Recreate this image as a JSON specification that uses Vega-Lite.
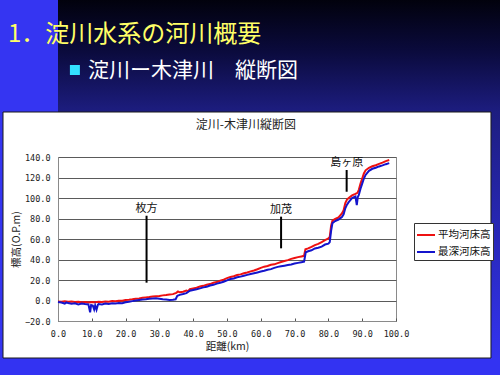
{
  "$schema": "https://vega.github.io/schema/vega-lite/v6.json",
  "width": 338,
  "height": 164,
  "autosize": {"type": "none"},
  "padding": {"left": 58, "top": 157, "right": 104, "bottom": 54},
  "background": "white",
  "config": {
    "font": "Noto Sans CJK JP",
    "view": {"stroke": "#8a8a8a", "strokeWidth": 1},
    "axis": {
      "domainColor": "#8a8a8a",
      "labelColor": "#222222",
      "titleColor": "#222222",
      "labelFont": "DejaVu Sans Mono",
      "labelFontSize": 8.5,
      "titleFont": "Noto Sans CJK JP",
      "titleFontSize": 10.5,
      "titleFontWeight": "normal",
      "gridColor": "#5a5a5a",
      "gridWidth": 1,
      "tickColor": "#555555"
    }
  },
  "datasets": {
    "profile": [
      {"series": "平均河床高", "km": 0, "elev": -1.0},
      {"series": "平均河床高", "km": 1, "elev": -1.2},
      {"series": "平均河床高", "km": 2, "elev": -0.8},
      {"series": "平均河床高", "km": 3, "elev": -1.3},
      {"series": "平均河床高", "km": 4, "elev": -1.0},
      {"series": "平均河床高", "km": 5, "elev": -1.5},
      {"series": "平均河床高", "km": 6, "elev": -1.2},
      {"series": "平均河床高", "km": 7, "elev": -1.8},
      {"series": "平均河床高", "km": 8, "elev": -1.4},
      {"series": "平均河床高", "km": 9, "elev": -2.0},
      {"series": "平均河床高", "km": 10, "elev": -1.5},
      {"series": "平均河床高", "km": 11, "elev": -1.8},
      {"series": "平均河床高", "km": 12, "elev": -1.3},
      {"series": "平均河床高", "km": 13, "elev": -1.5},
      {"series": "平均河床高", "km": 14, "elev": -1.0},
      {"series": "平均河床高", "km": 15, "elev": -1.2},
      {"series": "平均河床高", "km": 16, "elev": -0.6},
      {"series": "平均河床高", "km": 17, "elev": -0.8},
      {"series": "平均河床高", "km": 18, "elev": -0.3},
      {"series": "平均河床高", "km": 19, "elev": -0.2},
      {"series": "平均河床高", "km": 20, "elev": 0.5},
      {"series": "平均河床高", "km": 21, "elev": 0.8},
      {"series": "平均河床高", "km": 22, "elev": 1.2},
      {"series": "平均河床高", "km": 23, "elev": 1.8},
      {"series": "平均河床高", "km": 24, "elev": 2.0},
      {"series": "平均河床高", "km": 25, "elev": 2.6},
      {"series": "平均河床高", "km": 26, "elev": 3.0},
      {"series": "平均河床高", "km": 27, "elev": 3.4},
      {"series": "平均河床高", "km": 28, "elev": 3.9},
      {"series": "平均河床高", "km": 29, "elev": 4.2},
      {"series": "平均河床高", "km": 30, "elev": 4.5},
      {"series": "平均河床高", "km": 31, "elev": 5.0},
      {"series": "平均河床高", "km": 32, "elev": 5.3},
      {"series": "平均河床高", "km": 33, "elev": 5.8},
      {"series": "平均河床高", "km": 34, "elev": 6.2},
      {"series": "平均河床高", "km": 35, "elev": 7.5},
      {"series": "平均河床高", "km": 35.5, "elev": 8.8},
      {"series": "平均河床高", "km": 36, "elev": 8.0},
      {"series": "平均河床高", "km": 37, "elev": 8.6},
      {"series": "平均河床高", "km": 38, "elev": 9.8},
      {"series": "平均河床高", "km": 38.5, "elev": 9.2},
      {"series": "平均河床高", "km": 39, "elev": 11.0},
      {"series": "平均河床高", "km": 40, "elev": 11.8},
      {"series": "平均河床高", "km": 41, "elev": 12.5},
      {"series": "平均河床高", "km": 42, "elev": 13.6},
      {"series": "平均河床高", "km": 43, "elev": 14.3},
      {"series": "平均河床高", "km": 44, "elev": 15.4},
      {"series": "平均河床高", "km": 45, "elev": 16.0},
      {"series": "平均河床高", "km": 46, "elev": 17.3},
      {"series": "平均河床高", "km": 47, "elev": 18.0},
      {"series": "平均河床高", "km": 48, "elev": 19.4},
      {"series": "平均河床高", "km": 49, "elev": 20.4},
      {"series": "平均河床高", "km": 50, "elev": 21.8},
      {"series": "平均河床高", "km": 51, "elev": 23.0},
      {"series": "平均河床高", "km": 52, "elev": 23.6},
      {"series": "平均河床高", "km": 53, "elev": 24.8},
      {"series": "平均河床高", "km": 54, "elev": 25.5},
      {"series": "平均河床高", "km": 55, "elev": 26.6},
      {"series": "平均河床高", "km": 56, "elev": 27.3},
      {"series": "平均河床高", "km": 57, "elev": 28.4},
      {"series": "平均河床高", "km": 58, "elev": 29.3},
      {"series": "平均河床高", "km": 59, "elev": 30.5},
      {"series": "平均河床高", "km": 60, "elev": 31.8},
      {"series": "平均河床高", "km": 61, "elev": 33.0},
      {"series": "平均河床高", "km": 62, "elev": 33.6},
      {"series": "平均河床高", "km": 63, "elev": 34.8},
      {"series": "平均河床高", "km": 64, "elev": 35.3},
      {"series": "平均河床高", "km": 65, "elev": 36.5},
      {"series": "平均河床高", "km": 66, "elev": 37.6},
      {"series": "平均河床高", "km": 67, "elev": 38.5},
      {"series": "平均河床高", "km": 68, "elev": 39.4},
      {"series": "平均河床高", "km": 69, "elev": 40.6},
      {"series": "平均河床高", "km": 70, "elev": 41.5},
      {"series": "平均河床高", "km": 71, "elev": 42.3},
      {"series": "平均河床高", "km": 72, "elev": 43.0},
      {"series": "平均河床高", "km": 72.8, "elev": 43.6},
      {"series": "平均河床高", "km": 73.2, "elev": 50.0},
      {"series": "平均河床高", "km": 74, "elev": 50.8},
      {"series": "平均河床高", "km": 75, "elev": 52.3},
      {"series": "平均河床高", "km": 76, "elev": 54.0},
      {"series": "平均河床高", "km": 77, "elev": 55.2},
      {"series": "平均河床高", "km": 78, "elev": 57.0},
      {"series": "平均河床高", "km": 79, "elev": 59.0},
      {"series": "平均河床高", "km": 80, "elev": 60.5},
      {"series": "平均河床高", "km": 80.4, "elev": 62.0},
      {"series": "平均河床高", "km": 80.8, "elev": 73.0},
      {"series": "平均河床高", "km": 81.2, "elev": 78.0},
      {"series": "平均河床高", "km": 82, "elev": 79.5},
      {"series": "平均河床高", "km": 83, "elev": 81.0},
      {"series": "平均河床高", "km": 84, "elev": 85.0},
      {"series": "平均河床高", "km": 84.5, "elev": 88.0},
      {"series": "平均河床高", "km": 85, "elev": 95.0},
      {"series": "平均河床高", "km": 85.5, "elev": 98.5},
      {"series": "平均河床高", "km": 86, "elev": 100.0},
      {"series": "平均河床高", "km": 87, "elev": 102.5},
      {"series": "平均河床高", "km": 88, "elev": 104.0},
      {"series": "平均河床高", "km": 88.6, "elev": 105.0},
      {"series": "平均河床高", "km": 89, "elev": 108.0},
      {"series": "平均河床高", "km": 89.5, "elev": 114.0},
      {"series": "平均河床高", "km": 90, "elev": 119.0},
      {"series": "平均河床高", "km": 90.5, "elev": 124.0},
      {"series": "平均河床高", "km": 91, "elev": 127.0},
      {"series": "平均河床高", "km": 92, "elev": 129.5},
      {"series": "平均河床高", "km": 93, "elev": 131.0},
      {"series": "平均河床高", "km": 94, "elev": 132.0},
      {"series": "平均河床高", "km": 95, "elev": 133.3},
      {"series": "平均河床高", "km": 96, "elev": 134.5},
      {"series": "平均河床高", "km": 97, "elev": 136.0},
      {"series": "平均河床高", "km": 98, "elev": 137.0},
      {"series": "最深河床高", "km": 0, "elev": -1.5},
      {"series": "最深河床高", "km": 1, "elev": -2.0},
      {"series": "最深河床高", "km": 2, "elev": -3.0},
      {"series": "最深河床高", "km": 2.5, "elev": -1.8},
      {"series": "最深河床高", "km": 3, "elev": -2.5},
      {"series": "最深河床高", "km": 4, "elev": -3.2},
      {"series": "最深河床高", "km": 5, "elev": -2.8},
      {"series": "最深河床高", "km": 6, "elev": -3.8},
      {"series": "最深河床高", "km": 7, "elev": -3.0},
      {"series": "最深河床高", "km": 8, "elev": -3.5},
      {"series": "最深河床高", "km": 9, "elev": -3.8},
      {"series": "最深河床高", "km": 9.5, "elev": -11.5},
      {"series": "最深河床高", "km": 9.8, "elev": -4.5},
      {"series": "最深河床高", "km": 10.3, "elev": -5.0},
      {"series": "最深河床高", "km": 10.7, "elev": -8.8},
      {"series": "最深河床高", "km": 11, "elev": -4.8},
      {"series": "最深河床高", "km": 11.4, "elev": -9.0},
      {"series": "最深河床高", "km": 11.8, "elev": -4.2},
      {"series": "最深河床高", "km": 12, "elev": -3.5},
      {"series": "最深河床高", "km": 13, "elev": -3.8},
      {"series": "最深河床高", "km": 14, "elev": -3.0},
      {"series": "最深河床高", "km": 15, "elev": -3.3},
      {"series": "最深河床高", "km": 16, "elev": -2.6},
      {"series": "最深河床高", "km": 17, "elev": -2.9},
      {"series": "最深河床高", "km": 18, "elev": -2.4},
      {"series": "最深河床高", "km": 19, "elev": -2.6},
      {"series": "最深河床高", "km": 20, "elev": -1.8},
      {"series": "最深河床高", "km": 21, "elev": -1.2},
      {"series": "最深河床高", "km": 22, "elev": -0.6},
      {"series": "最深河床高", "km": 23, "elev": 0.0},
      {"series": "最深河床高", "km": 24, "elev": 0.5},
      {"series": "最深河床高", "km": 25, "elev": 1.0},
      {"series": "最深河床高", "km": 26, "elev": 1.2},
      {"series": "最深河床高", "km": 27, "elev": 1.6},
      {"series": "最深河床高", "km": 28, "elev": 2.0},
      {"series": "最深河床高", "km": 29, "elev": 2.2},
      {"series": "最深河床高", "km": 30, "elev": 1.8},
      {"series": "最深河床高", "km": 31, "elev": 1.2},
      {"series": "最深河床高", "km": 32, "elev": 1.0},
      {"series": "最深河床高", "km": 33, "elev": 0.6},
      {"series": "最深河床高", "km": 34, "elev": 0.8},
      {"series": "最深河床高", "km": 34.8, "elev": 1.2},
      {"series": "最深河床高", "km": 35.3, "elev": 4.5},
      {"series": "最深河床高", "km": 36, "elev": 5.5},
      {"series": "最深河床高", "km": 37, "elev": 6.3},
      {"series": "最深河床高", "km": 38, "elev": 7.2},
      {"series": "最深河床高", "km": 39, "elev": 9.5},
      {"series": "最深河床高", "km": 40, "elev": 10.3},
      {"series": "最深河床高", "km": 41, "elev": 11.0},
      {"series": "最深河床高", "km": 42, "elev": 11.8},
      {"series": "最深河床高", "km": 43, "elev": 12.8},
      {"series": "最深河床高", "km": 44, "elev": 13.5},
      {"series": "最深河床高", "km": 45, "elev": 14.6},
      {"series": "最深河床高", "km": 46, "elev": 15.3},
      {"series": "最深河床高", "km": 47, "elev": 16.5},
      {"series": "最深河床高", "km": 48, "elev": 17.4},
      {"series": "最深河床高", "km": 49, "elev": 18.3},
      {"series": "最深河床高", "km": 50, "elev": 19.6},
      {"series": "最深河床高", "km": 51, "elev": 21.0},
      {"series": "最深河床高", "km": 52, "elev": 21.5},
      {"series": "最深河床高", "km": 53, "elev": 22.6},
      {"series": "最深河床高", "km": 54, "elev": 23.3},
      {"series": "最深河床高", "km": 55, "elev": 24.2},
      {"series": "最深河床高", "km": 56, "elev": 25.0},
      {"series": "最深河床高", "km": 57, "elev": 25.8},
      {"series": "最深河床高", "km": 58, "elev": 26.6},
      {"series": "最深河床高", "km": 59, "elev": 27.4},
      {"series": "最深河床高", "km": 60, "elev": 28.2},
      {"series": "最深河床高", "km": 61, "elev": 29.0},
      {"series": "最深河床高", "km": 62, "elev": 30.0},
      {"series": "最深河床高", "km": 63, "elev": 30.6},
      {"series": "最深河床高", "km": 64, "elev": 31.8},
      {"series": "最深河床高", "km": 65, "elev": 32.8},
      {"series": "最深河床高", "km": 66, "elev": 33.4},
      {"series": "最深河床高", "km": 67, "elev": 34.0},
      {"series": "最深河床高", "km": 68, "elev": 34.6},
      {"series": "最深河床高", "km": 69, "elev": 35.2},
      {"series": "最深河床高", "km": 70, "elev": 36.0},
      {"series": "最深河床高", "km": 71, "elev": 36.7},
      {"series": "最深河床高", "km": 72, "elev": 37.3},
      {"series": "最深河床高", "km": 72.8, "elev": 37.8},
      {"series": "最深河床高", "km": 73.3, "elev": 47.0},
      {"series": "最深河床高", "km": 74, "elev": 48.0},
      {"series": "最深河床高", "km": 75, "elev": 49.0},
      {"series": "最深河床高", "km": 76, "elev": 50.8},
      {"series": "最深河床高", "km": 77, "elev": 51.5},
      {"series": "最深河床高", "km": 78, "elev": 52.6},
      {"series": "最深河床高", "km": 79, "elev": 54.6},
      {"series": "最深河床高", "km": 80, "elev": 55.5},
      {"series": "最深河床高", "km": 80.4, "elev": 57.0},
      {"series": "最深河床高", "km": 80.8, "elev": 68.0},
      {"series": "最深河床高", "km": 81.2, "elev": 75.5},
      {"series": "最深河床高", "km": 82, "elev": 77.5},
      {"series": "最深河床高", "km": 83, "elev": 79.0},
      {"series": "最深河床高", "km": 84, "elev": 81.5},
      {"series": "最深河床高", "km": 84.5, "elev": 84.0},
      {"series": "最深河床高", "km": 85, "elev": 90.0},
      {"series": "最深河床高", "km": 85.5, "elev": 93.5},
      {"series": "最深河床高", "km": 86, "elev": 96.0},
      {"series": "最深河床高", "km": 87, "elev": 100.0},
      {"series": "最深河床高", "km": 88, "elev": 101.5},
      {"series": "最深河床高", "km": 88.4, "elev": 93.0},
      {"series": "最深河床高", "km": 88.7, "elev": 101.0},
      {"series": "最深河床高", "km": 89, "elev": 103.0},
      {"series": "最深河床高", "km": 89.5, "elev": 109.0},
      {"series": "最深河床高", "km": 90, "elev": 114.0},
      {"series": "最深河床高", "km": 90.5, "elev": 119.0},
      {"series": "最深河床高", "km": 91, "elev": 122.5},
      {"series": "最深河床高", "km": 92, "elev": 126.5},
      {"series": "最深河床高", "km": 93, "elev": 128.5},
      {"series": "最深河床高", "km": 94, "elev": 129.5},
      {"series": "最深河床高", "km": 95, "elev": 130.8},
      {"series": "最深河床高", "km": 96, "elev": 131.8},
      {"series": "最深河床高", "km": 97, "elev": 133.0},
      {"series": "最深河床高", "km": 98, "elev": 134.0}
    ],
    "places": [
      {"place": "枚方", "km": 26.2, "top": 82.7, "bottom": 17.4},
      {"place": "加茂", "km": 66.0, "top": 81.8, "bottom": 50.9},
      {"place": "島ヶ原", "km": 85.4, "top": 127.3, "bottom": 106.1}
    ]
  },
  "data": {"name": "profile"},
  "layer": [
    {
      "data": {"values": [{"part": "slide top"}]},
      "mark": {"type": "rect", "color": {"gradient": "linear", "x1": 0, "y1": 0, "x2": 0, "y2": 1, "stops": [{"offset": 0, "color": "#000006"}, {"offset": 0.5, "color": "#0b0b3e"}, {"offset": 1, "color": "#1d1d80"}]}},
      "encoding": {
        "x": {"datum": -20, "type": "quantitative", "scale": {"domain": [0, 100], "nice": false}},
        "x2": {"datum": 135},
        "y": {"datum": 300, "type": "quantitative", "scale": {"domain": [-20, 140], "nice": false}},
        "y2": {"datum": 183.9}
      }
    },
    {
      "data": {"values": [{"part": "left band"}]},
      "mark": {"type": "rect", "color": "#3535f2"},
      "encoding": {
        "x": {"datum": -20, "type": "quantitative", "scale": {"domain": [0, 100], "nice": false}},
        "x2": {"datum": 0},
        "y": {"datum": 300, "type": "quantitative", "scale": {"domain": [-20, 140], "nice": false}},
        "y2": {"datum": 183.9}
      }
    },
    {
      "data": {"values": [{"part": "left edge"}]},
      "mark": {"type": "rect", "color": "#3535f2"},
      "encoding": {
        "x": {"datum": -20, "type": "quantitative", "scale": {"domain": [0, 100], "nice": false}},
        "x2": {"datum": -16.27},
        "y": {"datum": 183.9, "type": "quantitative", "scale": {"domain": [-20, 140], "nice": false}},
        "y2": {"datum": -56.1}
      }
    },
    {
      "data": {"values": [{"part": "right edge"}]},
      "mark": {"type": "rect", "color": {"gradient": "linear", "x1": 0, "y1": 0, "x2": 0, "y2": 1, "stops": [{"offset": 0, "color": "#1d1d80"}, {"offset": 1, "color": "#3333f0"}]}},
      "encoding": {
        "x": {"datum": 128.1, "type": "quantitative", "scale": {"domain": [0, 100], "nice": false}},
        "x2": {"datum": 135},
        "y": {"datum": 183.9, "type": "quantitative", "scale": {"domain": [-20, 140], "nice": false}},
        "y2": {"datum": -56.1}
      }
    },
    {
      "data": {"values": [{"part": "bottom edge"}]},
      "mark": {"type": "rect", "color": "#3333f2"},
      "encoding": {
        "x": {"datum": -20, "type": "quantitative", "scale": {"domain": [0, 100], "nice": false}},
        "x2": {"datum": 135},
        "y": {"datum": -56.1, "type": "quantitative", "scale": {"domain": [-20, 140], "nice": false}},
        "y2": {"datum": -80}
      }
    },
    {
      "data": {"values": [{"part": "chart frame"}]},
      "mark": {"type": "rect", "fill": "transparent", "stroke": "#1a1a1a", "strokeWidth": 1},
      "encoding": {
        "x": {"datum": -16.27, "type": "quantitative", "scale": {"domain": [0, 100], "nice": false}},
        "x2": {"datum": 128.1},
        "y": {"datum": 183.9, "type": "quantitative", "scale": {"domain": [-20, 140], "nice": false}},
        "y2": {"datum": -56.1}
      }
    },
    {
      "data": {"values": [{"label": "1．淀川水系の河川概要"}]},
      "mark": {"type": "text", "align": "left", "baseline": "alphabetic", "fontSize": 24, "color": "#ffff66", "font": "Noto Sans CJK JP"},
      "encoding": {
        "x": {"datum": -14.8, "type": "quantitative", "scale": {"domain": [0, 100], "nice": false}},
        "y": {"datum": 252.2, "type": "quantitative", "scale": {"domain": [-20, 140], "nice": false}},
        "text": {"field": "label"}
      }
    },
    {
      "data": {"values": [{"label": "bullet"}]},
      "mark": {"type": "point", "shape": "square", "filled": true, "size": 100, "color": "#33e0ff", "opacity": 1},
      "encoding": {
        "x": {"datum": 5.0, "type": "quantitative", "scale": {"domain": [0, 100], "nice": false}},
        "y": {"datum": 224.9, "type": "quantitative", "scale": {"domain": [-20, 140], "nice": false}}
      }
    },
    {
      "data": {"values": [{"label": "淀川ー木津川　縦断図"}]},
      "mark": {"type": "text", "align": "left", "baseline": "alphabetic", "fontSize": 21, "color": "#ffffff", "font": "Noto Sans CJK JP"},
      "encoding": {
        "x": {"datum": 8.9, "type": "quantitative", "scale": {"domain": [0, 100], "nice": false}},
        "y": {"datum": 218.5, "type": "quantitative", "scale": {"domain": [-20, 140], "nice": false}},
        "text": {"field": "label"}
      }
    },
    {
      "data": {"values": [{"label": "淀川-木津川縦断図"}]},
      "mark": {"type": "text", "align": "center", "baseline": "alphabetic", "fontSize": 12, "color": "#222222", "font": "Noto Sans CJK JP"},
      "encoding": {
        "x": {"datum": 55.6, "type": "quantitative", "scale": {"domain": [0, 100], "nice": false}},
        "y": {"datum": 167.7, "type": "quantitative", "scale": {"domain": [-20, 140], "nice": false}},
        "text": {"field": "label"}
      }
    },
    {
      "data": {"name": "places"},
      "mark": {"type": "rule", "color": "#000000", "strokeWidth": 2},
      "encoding": {
        "x": {"field": "km", "type": "quantitative", "scale": {"domain": [0, 100], "nice": false}},
        "y": {"field": "top", "type": "quantitative", "scale": {"domain": [-20, 140], "nice": false}},
        "y2": {"field": "bottom"}
      }
    },
    {
      "data": {"name": "places"},
      "mark": {"type": "text", "align": "center", "baseline": "alphabetic", "dy": -4, "fontSize": 11, "color": "#111111", "font": "Noto Sans CJK JP"},
      "encoding": {
        "x": {"field": "km", "type": "quantitative", "scale": {"domain": [0, 100], "nice": false}},
        "y": {"field": "top", "type": "quantitative", "scale": {"domain": [-20, 140], "nice": false}},
        "text": {"field": "place"}
      }
    },
    {
      "mark": {"type": "line", "strokeWidth": 2},
      "encoding": {
        "x": {
          "field": "km", "type": "quantitative",
          "scale": {"domain": [0, 100], "nice": false},
          "axis": {"title": "距離(km)", "values": [0, 10, 20, 30, 40, 50, 60, 70, 80, 90, 100], "tickCount": 30, "labelOverlap": false, "format": ".1f", "grid": false, "ticks": true, "tickSize": -3, "labelPadding": 11, "labelFlush": false, "titlePadding": 4}
        },
        "y": {
          "field": "elev", "type": "quantitative",
          "scale": {"domain": [-20, 140], "nice": false},
          "axis": {"title": "標高(O.P.m)", "values": [-20, 0, 20, 40, 60, 80, 100, 120, 140], "tickCount": 30, "labelOverlap": false, "format": ".1f", "grid": true, "ticks": false, "labelPadding": 8, "titlePadding": 3}
        },
        "color": {
          "field": "series", "type": "nominal",
          "scale": {"domain": ["平均河床高", "最深河床高"], "range": ["#ee1111", "#1414cc"]},
          "legend": {"title": null, "orient": "none", "legendX": 356, "legendY": 66, "direction": "vertical", "symbolType": "stroke", "symbolSize": 324, "symbolStrokeWidth": 2, "labelFontSize": 10.5, "labelFont": "Noto Sans CJK JP", "labelColor": "#111111", "strokeColor": "#333333", "fillColor": "#ffffff", "padding": 2, "labelOffset": 2, "rowPadding": 1}
        }
      }
    }
  ]
}
